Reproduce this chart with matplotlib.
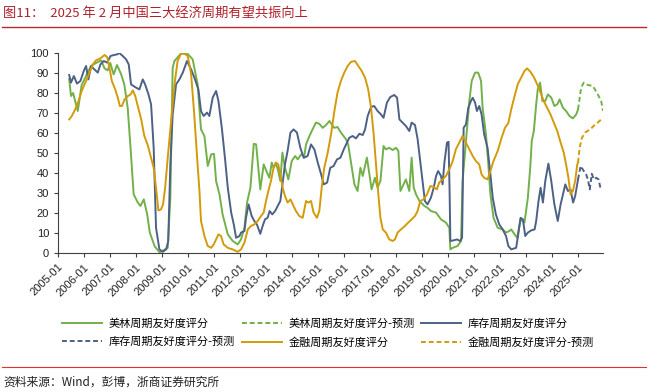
import matplotlib.pyplot as plt
from matplotlib.lines import Line2D

plt.rcParams['font.family'] = ['Noto Sans CJK SC', 'DejaVu Sans']

# ==========================================
# 数据 (年份小数, 评分)
# ==========================================
meilin_x = [
    2005.43, 2005.50, 2005.58, 2005.66, 2005.76, 2005.91, 2006.08, 2006.27, 2006.46, 2006.66,
    2006.79, 2006.91, 2007.01, 2007.14, 2007.27, 2007.43, 2007.55, 2007.68, 2007.79, 2007.91,
    2008.07, 2008.17, 2008.30, 2008.43, 2008.53, 2008.72, 2008.91, 2009.22, 2009.32, 2009.41,
    2009.48, 2009.73, 2009.99, 2010.18, 2010.37, 2010.50, 2010.63, 2010.76, 2010.89, 2011.00,
    2011.08, 2011.21, 2011.33, 2011.53, 2011.72, 2011.91, 2012.04, 2012.17, 2012.27, 2012.40,
    2012.53, 2012.62, 2012.78, 2012.91, 2013.04, 2013.13, 2013.22, 2013.29, 2013.38, 2013.47,
    2013.55, 2013.63, 2013.73, 2013.86, 2013.99, 2014.12, 2014.22, 2014.35, 2014.47, 2014.54,
    2014.67, 2014.79, 2014.92, 2015.05, 2015.18, 2015.31, 2015.44, 2015.62, 2015.75, 2015.88,
    2016.08, 2016.16, 2016.27, 2016.40, 2016.52, 2016.63, 2016.72, 2016.88, 2016.97, 2017.06,
    2017.19, 2017.29, 2017.40, 2017.52, 2017.61, 2017.74, 2017.87, 2018.00, 2018.09, 2018.17,
    2018.29, 2018.38, 2018.51, 2018.60, 2018.68, 2018.77, 2018.90, 2019.09, 2019.21, 2019.34,
    2019.54, 2019.73, 2019.92, 2020.05, 2020.09, 2020.18, 2020.37, 2020.50, 2020.56, 2020.69,
    2020.82, 2020.91, 2021.04, 2021.16, 2021.27, 2021.33, 2021.46, 2021.55, 2021.63, 2021.75,
    2021.91, 2022.10, 2022.23, 2022.36, 2022.43, 2022.56, 2022.66, 2022.79, 2022.94, 2023.07,
    2023.17, 2023.22, 2023.30, 2023.39, 2023.45, 2023.54, 2023.63, 2023.74, 2023.84, 2023.97,
    2024.09, 2024.20, 2024.29, 2024.42, 2024.54, 2024.67, 2024.80, 2024.93, 2025.00]
meilin_y = [
    87, 78.5, 80, 76, 71, 84, 88.5, 93.5, 95, 96.3,
    92.3, 91.3, 95, 89.3, 94, 89.3, 84.3, 72.6, 52.6, 29.3,
    25.2, 23.5, 26.8, 19.3, 10.2, 3.3, 0.3, 2.6, 27.6, 92.6,
    96, 99.8, 99.5, 96.8, 84.3, 61.8, 58.5, 43.5, 49.3, 49.6,
    36, 29.3, 19.3, 9.3, 6, 4.3, 6.8, 12.6, 25.2, 32.7,
    54.6, 54.3, 31.8, 44.3, 40.2, 37.6, 45.2, 42.6, 45.1, 41,
    36, 50.2, 42.6, 36.8, 46, 48.5, 46.8, 49.3, 48.5, 54.3,
    58.5, 61.8, 65.2, 64.6, 62.6, 64, 66, 62.6, 63, 60.2,
    56.8, 54.3, 45.2, 34.3, 31, 42.6, 38.5, 47.7, 40, 31.8,
    37.6, 32.7, 36, 53.5, 51.8, 52.6, 51.5, 52.6, 51, 31,
    34.3, 36.8, 31, 47.7, 32.7, 29.3, 26, 23.5, 22.6, 21,
    20.2, 16.8, 15.2, 12.6, 1.8, 2.6, 3.5, 6, 36, 56,
    76, 86, 90.2, 90.2, 86, 72.6, 59.3, 44.3, 29.3, 17.6,
    12.6, 11.8, 10.2, 11, 11.8, 9.3, 7.6, 16.8, 15.2, 27.6,
    44.3, 56, 61, 74.3, 81.8, 85.2, 76, 76, 79.3, 77.7,
    73.5, 74.3, 76.8, 72.6, 71, 68.5, 67.3, 69.3, 71.8]
meilin_fc_x = [2025.00, 2025.12, 2025.22, 2025.38, 2025.57, 2025.76, 2025.89, 2025.96]
meilin_fc_y = [71.8, 82.7, 85.2, 84, 83.5, 79.3, 76, 71]

kucun_x = [
    2005.43, 2005.50, 2005.61, 2005.73, 2005.86, 2005.99, 2006.08, 2006.17, 2006.27, 2006.40,
    2006.53, 2006.63, 2006.76, 2006.89, 2007.02, 2007.15, 2007.27, 2007.36, 2007.49, 2007.62,
    2007.72, 2007.81, 2007.96, 2008.13, 2008.26, 2008.35, 2008.48, 2008.58, 2008.68, 2008.77,
    2008.90, 2009.03, 2009.16, 2009.24, 2009.32, 2009.41, 2009.54, 2009.67, 2009.80, 2009.96,
    2010.12, 2010.27, 2010.40, 2010.50, 2010.60, 2010.73, 2010.82, 2010.95, 2011.08, 2011.17,
    2011.30, 2011.42, 2011.53, 2011.66, 2011.76, 2011.85, 2011.98, 2012.04, 2012.17, 2012.23,
    2012.33, 2012.45, 2012.55, 2012.65, 2012.78, 2012.87, 2012.96, 2013.06, 2013.14, 2013.24,
    2013.35, 2013.45, 2013.55, 2013.64, 2013.73, 2013.83, 2013.94, 2014.06, 2014.19, 2014.32,
    2014.45, 2014.60, 2014.73, 2014.86, 2014.99, 2015.12, 2015.22, 2015.35, 2015.47, 2015.60,
    2015.73, 2015.86, 2015.99, 2016.08, 2016.20, 2016.33, 2016.46, 2016.59, 2016.72, 2016.81,
    2016.91, 2017.04, 2017.16, 2017.29, 2017.42, 2017.52, 2017.65, 2017.78, 2017.93, 2018.04,
    2018.13, 2018.25, 2018.38, 2018.51, 2018.60, 2018.73, 2018.83, 2018.93, 2019.02, 2019.11,
    2019.21, 2019.34, 2019.45, 2019.54, 2019.62, 2019.73, 2019.79, 2019.86, 2019.96, 2020.02,
    2020.06, 2020.09, 2020.21, 2020.34, 2020.47, 2020.54, 2020.60, 2020.69, 2020.78, 2020.88,
    2020.95, 2021.04, 2021.11, 2021.20, 2021.29, 2021.39, 2021.52, 2021.63, 2021.72, 2021.84,
    2021.97, 2022.10, 2022.23, 2022.32, 2022.43, 2022.62, 2022.68, 2022.79, 2022.88, 2022.97,
    2023.07, 2023.20, 2023.33, 2023.39, 2023.48, 2023.56, 2023.65, 2023.74, 2023.86, 2023.97,
    2024.09, 2024.22, 2024.33, 2024.42, 2024.51, 2024.61, 2024.71, 2024.81, 2024.89, 2025.00]
kucun_y = [
    89, 85.2, 88.5, 84.7, 86, 91, 93.5, 86.8, 93.5, 91.8,
    90.2, 94.3, 96, 95.2, 98.5, 99, 99.3, 100, 98.5, 96.8,
    94.3, 84.3, 83, 81.8, 86.8, 84.3, 79.3, 74.3, 52.6, 12.6,
    1.8, 0.6, 1.8, 6, 44.3, 69.3, 84.3, 86.8, 90.2, 96,
    91.8, 86.8, 81.8, 71, 68.5, 70.2, 68.5, 77.7, 81, 76,
    62.6, 47.6, 32.6, 20.2, 14.3, 7.6, 8.5, 10.2, 11, 17.6,
    24.3, 18.5, 16, 14.3, 9.6, 13.5, 16.8, 17.6, 21, 19.3,
    21, 23.5, 26, 35.2, 44.3, 51, 60.2, 61.8, 60.2, 52.6,
    47.6, 48.5, 54.3, 51.8, 45.2, 39.3, 34.3, 35.2, 42.6, 43.5,
    46.8, 47.6, 51.8, 54.3, 57.6, 58.5, 57.3, 59.6, 59, 61.8,
    68.5, 73, 73.5, 71, 69.3, 67.6, 75.2, 78, 79, 77.7,
    66.8, 65.2, 63.5, 61, 65.2, 64, 57, 46, 36, 26,
    24.3, 27.6, 32.6, 38.5, 41, 38.5, 34.3, 45.2, 55.2, 55.6,
    31, 6, 6.3, 6.8, 6, 7.6, 62.6, 64.3, 72.6, 76,
    77.6, 75.2, 71, 73.5, 69.3, 59.3, 52.6, 39.3, 27.6, 19.3,
    14.3, 11.8, 8.5, 3.5, 1.8, 2.6, 7.6, 17.6, 16.8, 8.5,
    10.2, 11.3, 11.8, 16, 26, 32.6, 25.2, 36, 44.7, 36,
    24.3, 16, 24.3, 29.3, 34.3, 31, 31.8, 25.2, 28.5, 36.8]
kucun_fc_x = [2025.00, 2025.10, 2025.22, 2025.31, 2025.38, 2025.45, 2025.53, 2025.61,
              2025.70, 2025.79, 2025.86, 2025.96]
kucun_fc_y = [36.8, 43.5, 41, 39.3, 36.8, 31.8, 39.6, 36.8, 37.6, 36.8, 32.6, 32.3]

jinrong_x = [
    2005.43, 2005.53, 2005.66, 2005.79, 2005.91, 2006.08, 2006.21, 2006.34, 2006.46, 2006.63,
    2006.79, 2006.89, 2006.98, 2007.07, 2007.20, 2007.30, 2007.38, 2007.46, 2007.56, 2007.69,
    2007.79, 2007.88, 2007.97, 2008.07, 2008.20, 2008.32, 2008.45, 2008.58, 2008.68, 2008.77,
    2008.86, 2008.96, 2009.04, 2009.12, 2009.22, 2009.35, 2009.48, 2009.60, 2009.73, 2009.86,
    2009.99, 2010.12, 2010.24, 2010.35, 2010.44, 2010.50, 2010.63, 2010.76, 2010.89, 2010.99,
    2011.08, 2011.17, 2011.27, 2011.37, 2011.53, 2011.72, 2011.91, 2012.04, 2012.17, 2012.30,
    2012.42, 2012.55, 2012.68, 2012.81, 2012.91, 2013.00, 2013.09, 2013.19, 2013.29, 2013.38,
    2013.47, 2013.55, 2013.64, 2013.73, 2013.83, 2013.94, 2014.03, 2014.15, 2014.28, 2014.41,
    2014.54, 2014.63, 2014.73, 2014.83, 2014.96, 2015.05, 2015.14, 2015.24, 2015.37, 2015.50,
    2015.63, 2015.75, 2015.88, 2016.01, 2016.14, 2016.27, 2016.42, 2016.55, 2016.68, 2016.81,
    2016.93, 2017.04, 2017.14, 2017.23, 2017.32, 2017.40, 2017.49, 2017.61, 2017.74, 2017.87,
    2017.96, 2018.06, 2018.19, 2018.34, 2018.47, 2018.60, 2018.73, 2018.83, 2018.93, 2019.06,
    2019.19, 2019.32, 2019.45, 2019.57, 2019.66, 2019.79, 2019.92, 2020.05, 2020.18, 2020.30,
    2020.43, 2020.56, 2020.69, 2020.82, 2020.95, 2021.07, 2021.20, 2021.29, 2021.39, 2021.52,
    2021.63, 2021.75, 2021.91, 2022.06, 2022.19, 2022.32, 2022.43, 2022.56, 2022.68, 2022.81,
    2022.94, 2023.04, 2023.17, 2023.30, 2023.43, 2023.56, 2023.68, 2023.81, 2023.94, 2024.07,
    2024.20, 2024.33, 2024.45, 2024.54, 2024.63, 2024.71, 2024.80, 2024.89, 2024.97, 2025.00]
jinrong_y = [
    66.8, 68.5, 71.8, 76, 81, 86, 90.2, 94.3, 96.3, 97.3,
    99, 98, 92.6, 86, 81.8, 77.6, 73.5, 73.5, 76.8, 78.5,
    79.3, 81.3, 78.5, 73.5, 66.8, 58.5, 54, 47.6, 42.6, 32.6,
    21.3, 21.8, 24.3, 32.6, 47.6, 66, 84.3, 96, 99.7, 99.7,
    98.5, 89.3, 69.3, 47.6, 31, 16, 8.5, 3.5, 2.6, 4.3,
    6.8, 9.3, 8.5, 4.3, 2.6, 1.8, 0.6, 1.8, 5.2, 11.8,
    13.5, 14.3, 16, 18.5, 20.2, 26, 31, 36, 42.6, 45.2,
    44.3, 39.3, 32.6, 28.5, 25.2, 26.8, 24.3, 21, 18.5, 17.6,
    26, 25.2, 26, 20.2, 17.6, 21, 32.6, 42.6, 50, 59.3,
    71, 80.2, 86, 90.2, 93.5, 95.6, 96, 93.5, 91, 87.6,
    81.8, 72.6, 59.3, 44.3, 29.3, 17.6, 11.8, 10.2, 6.8, 6,
    6.8, 10.2, 11.8, 13.5, 15.2, 16.8, 18.5, 21, 26, 26.8,
    29.3, 33.5, 33, 31.8, 35.2, 36.8, 38.5, 41.8, 46, 51.8,
    55.2, 58.5, 55.2, 51.8, 48.5, 46, 44.3, 39.3, 37.6, 36.8,
    41, 46, 51, 57.6, 62.6, 65, 71.8, 78.5, 84.3, 87.6,
    91, 92.3, 90.6, 88, 84.3, 80.2, 76, 72.6, 69.3, 65.2,
    61, 55.2, 50.2, 44.3, 37.6, 29.3, 31, 36, 44.3, 45.2]
jinrong_fc_x = [2025.00, 2025.06, 2025.15, 2025.27, 2025.40, 2025.53, 2025.66, 2025.79, 2025.96]
jinrong_fc_y = [45.2, 52.6, 57.6, 60.2, 61.3, 62.6, 64.3, 65.6, 67.6]

year_ticks = list(range(2005, 2026))
tick_labels = [f"{y}-01" for y in year_ticks]

# 颜色
c_green = '#72B04A'
c_blue = '#4D6186'
c_gold = '#D39B0A'

# ==========================================
# 绘图
# ==========================================
fig = plt.figure(figsize=(6.5, 3.92), dpi=100)
ax = fig.add_axes([58 / 650, 1 - 253 / 392, 545 / 650, 200 / 392])

lw = 1.4
dash = (0, (2.5, 1.5))
h1, = ax.plot(meilin_x, meilin_y, color=c_green, lw=lw, label='美林周期友好度评分')
h2, = ax.plot(meilin_fc_x, meilin_fc_y, color=c_green, lw=lw, ls=dash, label='美林周期友好度评分-预测')
h3, = ax.plot(kucun_x, kucun_y, color=c_blue, lw=lw, label='库存周期友好度评分')
h4, = ax.plot(kucun_fc_x, kucun_fc_y, color=c_blue, lw=lw, ls=dash, label='库存周期友好度评分-预测')
h5, = ax.plot(jinrong_x, jinrong_y, color=c_gold, lw=lw, label='金融周期友好度评分')
h6, = ax.plot(jinrong_fc_x, jinrong_fc_y, color=c_gold, lw=lw, ls=dash, label='金融周期友好度评分-预测')

ax.set_xlim(2005, 2025.96)
ax.set_ylim(0, 100)
ax.set_yticks(range(0, 101, 10))
ax.set_xticks(year_ticks)
ax.set_xticklabels(tick_labels, rotation=45, ha='right', rotation_mode='anchor',
                   family=['Liberation Sans', 'DejaVu Sans'])
for lab in ax.get_yticklabels():
    lab.set_family(['Liberation Sans', 'DejaVu Sans'])
ax.tick_params(labelsize=8, length=3, width=0.8, color='#404040', labelcolor='#222222')
ax.spines['top'].set_visible(False)
ax.spines['right'].set_visible(False)
for s in ['left', 'bottom']:
    ax.spines[s].set_color('#404040')
    ax.spines[s].set_linewidth(0.8)

# 图例: 按行排列
handles = [h1, h4, h2, h5, h3, h6]
fig.legend(handles=handles, labels=[h.get_label() for h in handles], ncol=3,
           loc='upper left', bbox_to_anchor=(52 / 650, 1 - 308 / 392), frameon=False,
           fontsize=8, handlelength=3.6, handletextpad=0.6, columnspacing=0.6,
           labelspacing=0.75)

# 标题与来源
fig.text(3 / 650, 1 - 14 / 392, '图11：  2025 年 2 月中国三大经济周期有望共振向上',
         fontsize=9.5, color='#B0202A', va='center', ha='left')
fig.add_artist(Line2D([2 / 650, 646 / 650], [1 - 27 / 392, 1 - 27 / 392],
                      color='#C0272D', lw=1.0))
fig.add_artist(Line2D([2 / 650, 646 / 650], [1 - 367 / 392, 1 - 367 / 392],
                      color='#E03030', lw=0.8))
fig.text(3 / 650, 1 - 382 / 392, '资料来源：Wind，彭博，浙商证券研究所',
         fontsize=8.5, color='#222222', va='center', ha='left')

fig.savefig('out.png', dpi=100)
